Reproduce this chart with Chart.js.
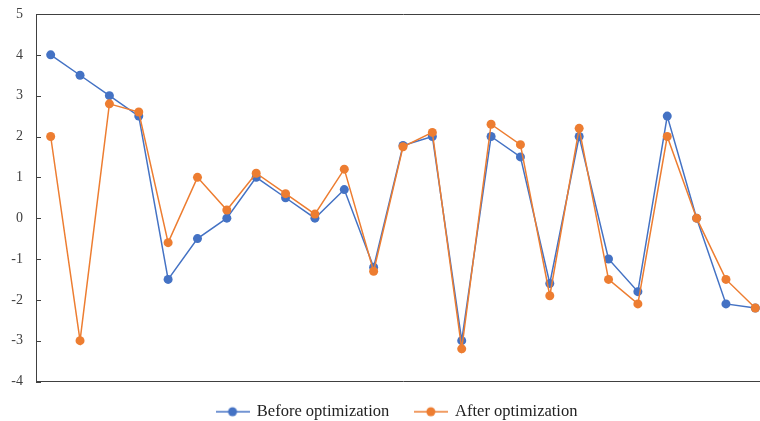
<!DOCTYPE html>
<html>
<head>
<meta charset="utf-8">
<script src="https://cdn.jsdelivr.net/npm/chart.js@4.4.1/dist/chart.umd.min.js"></script>
<style>
  html, body { margin: 0; padding: 0; background: #fff; overflow: hidden; }
  #wrap { width: 775px; height: 421px; position: relative; }
</style>
</head>
<body>
<div id="wrap"><canvas id="chart"></canvas></div>
<script>
// 25 samples, no category text shown on the x axis
const labels = Array.from({ length: 25 }, (_, i) => String(i + 1));
const before_opt = [4, 3.5, 3, 2.5, -1.5, -0.5, 0, 1, 0.5, 0, 0.7, -1.2, 1.78, 2,
  -3, 2, 1.5, -1.6, 2, -1, -1.8, 2.5, 0, -2.1, -2.2];
const after_opt = [2, -3, 2.8, 2.6, -0.6, 1, 0.2, 1.1, 0.6, 0.1, 1.2, -1.3, 1.75, 2.1,
  -3.2, 2.3, 1.8, -1.9, 2.2, -1.5, -2.1, 2, 0, -1.5, -2.2];
const series_names = ["Before optimization", "After optimization"];
const y_min = -4, y_max = 5;

const BLUE = "#4472C4";
const ORANGE = "#ED7D31";
const AXIS = "#404040";
const FONT = "'Liberation Serif', 'Times New Roman', serif";

// legend marker: short line with a dot, like excel
function markerImage(color) {
  const c = document.createElement("canvas");
  c.width = 34;
  c.height = 12;
  const g = c.getContext("2d");
  g.strokeStyle = color;
  g.lineWidth = 1.5;
  g.beginPath();
  g.moveTo(0, 6);
  g.lineTo(34, 6);
  g.stroke();
  g.fillStyle = color;
  g.beginPath();
  g.arc(17, 6, 4.5, 0, Math.PI * 2);
  g.fill();
  return c;
}
const markers = [markerImage(BLUE), markerImage(ORANGE)];

// move the legend a bit right and down, the excel one sits lower
const moveLegend = {
  id: "moveLegend",
  afterLayout: (chart) => {
    const lg = chart.legend;
    lg.left += 9;
    lg.right += 9;
    lg.top += 9;
    lg.bottom += 9;
  },
};

// short tick marks on the inside of the y axis
const innerTicks = {
  id: "innerTicks",
  afterDatasetsDraw: (chart) => {
    const y = chart.scales.y;
    const left = chart.chartArea.left;
    const c = chart.ctx;
    c.save();
    c.strokeStyle = AXIS;
    c.lineWidth = 1;
    y.ticks.forEach((t) => {
      const py = Math.round(y.getPixelForValue(t.value)) + 0.5;
      c.beginPath();
      c.moveTo(left, py);
      c.lineTo(left + 5, py);
      c.stroke();
    });
    c.restore();
  },
};

const ctx = document.getElementById("chart").getContext("2d");
new Chart(ctx, {
  type: "line",
  data: {
    labels: labels,
    datasets: [
      {
        label: series_names[0],
        data: before_opt,
        borderColor: BLUE,
        backgroundColor: BLUE,
        borderWidth: 1.5,
        pointRadius: 4.5,
        pointBorderWidth: 0,
        pointBackgroundColor: BLUE,
        tension: 0,
        order: 2,
      },
      {
        label: series_names[1],
        data: after_opt,
        borderColor: ORANGE,
        backgroundColor: ORANGE,
        borderWidth: 1.5,
        pointRadius: 4.5,
        pointBorderWidth: 0,
        pointBackgroundColor: ORANGE,
        tension: 0,
        order: 1,
      },
    ],
  },
  options: {
    responsive: true,
    maintainAspectRatio: false,
    animation: false,
    layout: { padding: { top: 6, right: 5, left: 6, bottom: 0 } },
    scales: {
      x: {
        offset: true,
        ticks: { display: false },
        grid: { display: false },
        border: { display: true, color: AXIS, width: 1 },
        afterFit: (scale) => { scale.height = 8; },
      },
      xTop: {
        position: "top",
        offset: true,
        labels: labels,
        ticks: { display: false },
        grid: { display: false },
        border: { display: true, color: AXIS, width: 1 },
      },
      y: {
        min: y_min,
        max: y_max,
        ticks: {
          stepSize: 1,
          color: "#404040",
          padding: 13,
          font: { family: FONT, size: 14 },
        },
        grid: { display: true, drawOnChartArea: false, drawTicks: false },
        border: { display: true, color: AXIS, width: 1 },
        afterFit: (scale) => {
          scale.width = 30;
          scale.paddingTop = 8;
          scale.paddingBottom = 8;
        },
      },
    },
    plugins: {
      tooltip: { enabled: false },
      legend: {
        position: "bottom",
        labels: {
          usePointStyle: true,
          pointStyleWidth: 32,
          padding: 5,
          color: "#222",
          font: { family: FONT, size: 16.5 },
          generateLabels: (chart) =>
            chart.data.datasets.map((ds, i) => ({
              text: i === 0 ? ds.label + "     " : ds.label,
              pointStyle: markers[i],
              fillStyle: ds.borderColor,
              strokeStyle: ds.borderColor,
              lineWidth: 0,
              hidden: false,
              datasetIndex: i,
              fontColor: "#222",
            })),
        },
      },
    },
  },
  plugins: [moveLegend, innerTicks],
});
</script>
</body>
</html>
